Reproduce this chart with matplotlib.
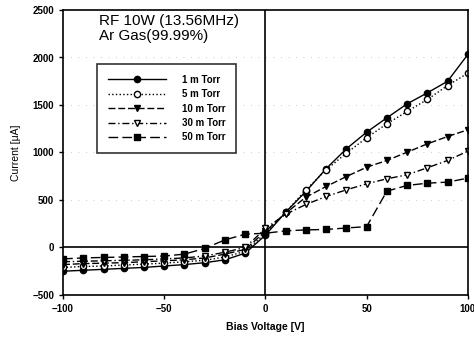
import matplotlib
matplotlib.use("Agg")
import matplotlib.pyplot as plt

plt.rcParams['font.family'] = ['Liberation Sans', 'DejaVu Sans']

voltage = [-100, -90, -80, -70, -60, -50, -40, -30, -20, -10, 0,
           10, 20, 30, 40, 50, 60, 70, 80, 90, 100]
i_1mtorr = [-250, -240, -230, -220, -210, -195, -180, -160, -130, -60, 130,
            372, 590, 830, 1039, 1214, 1365, 1512, 1628, 1750, 2032]
i_5mtorr = [-210, -200, -195, -185, -175, -165, -150, -135, -100, -40, 150,
            372, 607, 818, 993, 1155, 1302, 1432, 1558, 1705, 1835]
i_10mtorr = [-180, -170, -165, -160, -150, -140, -130, -110, -70, -20, 170,
             360, 530, 642, 747, 845, 916, 1003, 1091, 1168, 1239]
i_30mtorr = [-150, -145, -140, -135, -130, -120, -110, -90, -50, 0, 200,
             350, 453, 537, 607, 670, 723, 765, 839, 916, 1014]
i_50mtorr = [-120, -110, -105, -100, -95, -90, -70, -10, 80, 140, 150,
             175, 185, 190, 205, 220, 593, 653, 677, 688, 730]
labels = ['1 m Torr', '5 m Torr', '10 m Torr', '30 m Torr', '50 m Torr']

fig = plt.figure(figsize=(4.74, 3.45), dpi=100)
ax = fig.add_axes([0.133, 0.145, 0.854, 0.826])

styles = [
    dict(linestyle='-', marker='o', mfc='black', mec='black', ms=4.5),
    dict(linestyle=':', marker='o', mfc='white', mec='black', ms=4.5),
    dict(linestyle=(0, (5, 2)), marker='v', mfc='black', mec='black', ms=5),
    dict(linestyle=(0, (5, 2, 1, 2)), marker='v', mfc='white', mec='black', ms=5),
    dict(linestyle=(0, (7, 3)), marker='s', mfc='black', mec='black', ms=4.5),
]
series = [i_1mtorr, i_5mtorr, i_10mtorr, i_30mtorr, i_50mtorr]
for y, lab, st in zip(series, labels, styles):
    ax.plot(voltage, y, color='black', lw=1.0, label=lab, **st)

ax.axhline(0, color='black', lw=1.2, zorder=1)
ax.axvline(0, color='black', lw=1.2, zorder=1)
for yy in [500, 1000, 1500, 2000]:
    ax.axhline(yy, color='#bbbbbb', lw=0.6, linestyle=(0, (1, 8)), zorder=0)

ax.set_xlim(-100, 100)
ax.set_ylim(-500, 2500)
ax.set_xticks([-100, -50, 0, 50, 100])
ax.set_yticks([-500, 0, 500, 1000, 1500, 2000, 2500])
ax.tick_params(axis='both', labelsize=7, direction='out', length=3, width=1)
for lbl in ax.get_xticklabels() + ax.get_yticklabels():
    lbl.set_fontweight('bold')
for sp in ax.spines.values():
    sp.set_linewidth(1.2)

ax.set_xlabel('Bias Voltage [V]', fontsize=7.5, fontweight='bold', labelpad=6)
ax.set_ylabel('Current [\u03bcA]', fontsize=7.5, labelpad=8)

ax.text(0.088, 0.985, 'RF 10W (13.56MHz)\nAr Gas(99.99%)', transform=ax.transAxes,
        fontsize=11, va='top', ha='left', linespacing=1.05)

leg = ax.legend(loc='upper left', bbox_to_anchor=(0.084, 0.81), borderaxespad=0,
                fontsize=7, handlelength=6.0, frameon=True, fancybox=False,
                edgecolor='black', labelspacing=0.45, borderpad=1.1,
                handletextpad=1.6)
leg.get_frame().set_linewidth(1.2)
for t in leg.get_texts():
    t.set_fontweight('bold')

fig.savefig('out.png', dpi=100)
